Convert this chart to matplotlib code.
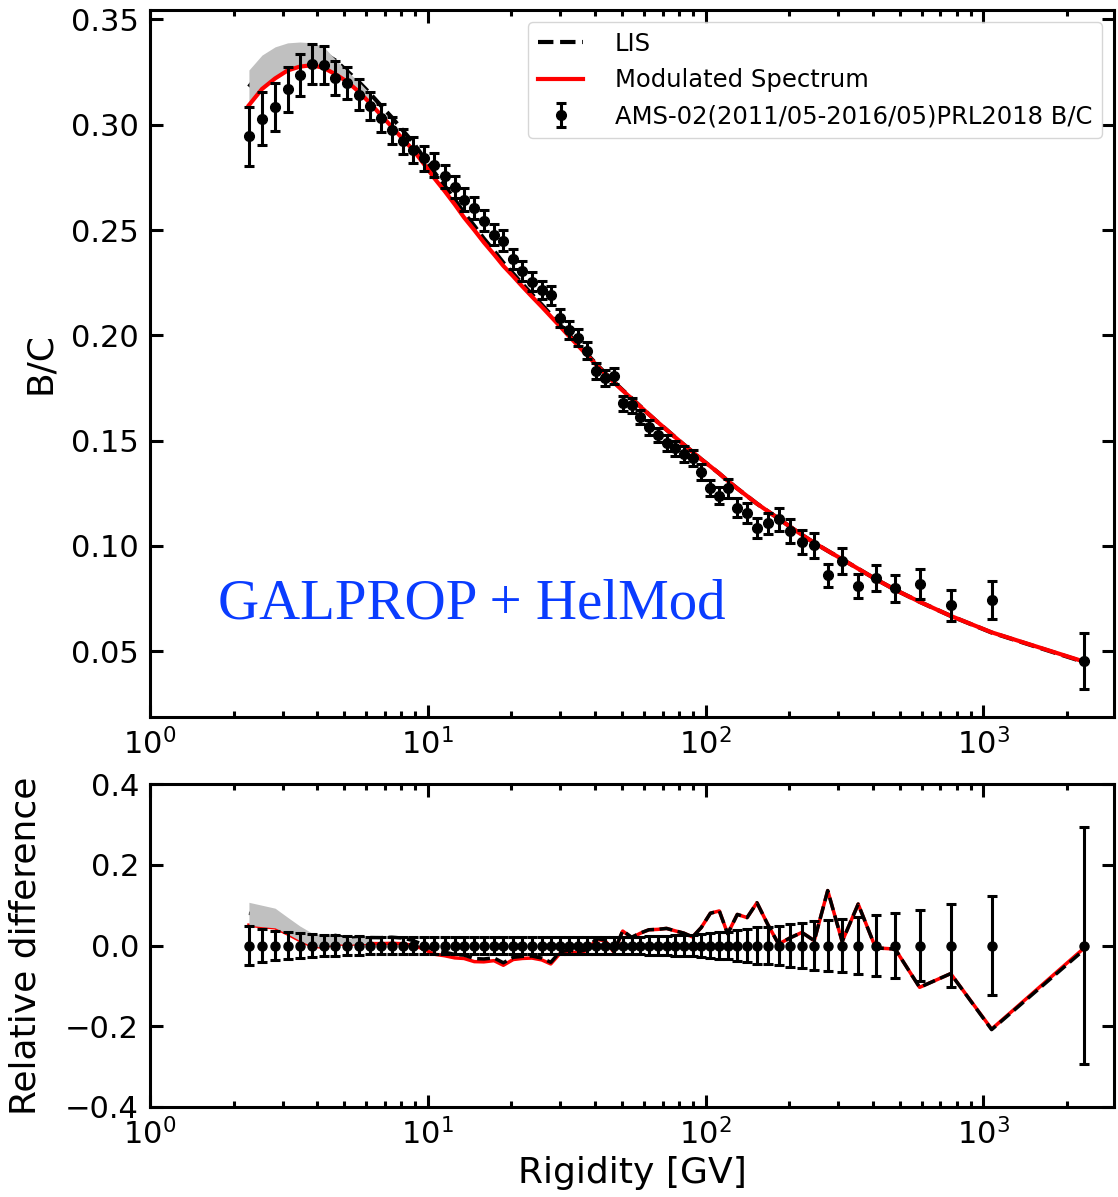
"""B/C ratio versus rigidity: GALPROP + HelMod model against AMS-02 data."""

import matplotlib

matplotlib.use("Agg")
import matplotlib.pyplot as plt
import numpy as np

# AMS-02 B/C (PRL 2018), bin centres in GV
rigidity = [
    2.27, 2.53, 2.82, 3.13, 3.46, 3.83, 4.22, 4.65, 5.12, 5.63, 6.18, 6.77,
    7.42, 8.11, 8.86, 9.67, 10.5, 11.5, 12.5, 13.5, 14.7, 15.9, 17.3, 18.7,
    20.3, 21.9, 23.7, 25.7, 27.7, 29.9, 32.3, 34.8, 37.5, 40.4, 43.5, 46.8,
    50.3, 54.1, 58.2, 62.5, 67.2, 72.3, 77.7, 83.5, 89.7, 96.4, 104, 112,
    120, 130, 141, 153, 167, 183, 201, 222, 246, 275, 310, 354, 409, 481,
    589, 762, 1070, 2300,
]
bc_ams = [
    0.2945, 0.3029, 0.3085, 0.3168, 0.3236, 0.3288, 0.3284, 0.3224, 0.3198,
    0.3143, 0.3089, 0.3033, 0.2974, 0.2921, 0.2880, 0.2840, 0.2810, 0.2755,
    0.2705, 0.2645, 0.2604, 0.2545, 0.2478, 0.2450, 0.2362, 0.2306, 0.2254,
    0.2215, 0.2190, 0.2084, 0.2025, 0.1988, 0.1928, 0.1832, 0.1797, 0.1807,
    0.1678, 0.1668, 0.1613, 0.1564, 0.1527, 0.1489, 0.1463, 0.1437, 0.1417,
    0.1352, 0.1276, 0.1238, 0.1273, 0.1182, 0.1157, 0.1086, 0.1107, 0.1126,
    0.1072, 0.1020, 0.1003, 0.0860, 0.0928, 0.0809, 0.0848, 0.0799, 0.0820,
    0.0718, 0.0744, 0.0454,
]
bc_ams_err = [
    0.0141, 0.0127, 0.0114, 0.0105, 0.0100, 0.0095, 0.0089, 0.0081, 0.0077,
    0.0072, 0.0068, 0.0067, 0.0065, 0.0061, 0.0060, 0.0060, 0.0056, 0.0055,
    0.0054, 0.0053, 0.0052, 0.0051, 0.0050, 0.0049, 0.0047, 0.0046, 0.0045,
    0.0044, 0.0044, 0.0042, 0.0041, 0.0040, 0.0039, 0.0037, 0.0038, 0.0038,
    0.0035, 0.0037, 0.0035, 0.0036, 0.0035, 0.0036, 0.0037, 0.0037, 0.0038,
    0.0038, 0.0038, 0.0040, 0.0043, 0.0044, 0.0046, 0.0049, 0.0051, 0.0054,
    0.0056, 0.0057, 0.0060, 0.0054, 0.0062, 0.0057, 0.0064, 0.0065, 0.0072,
    0.0073, 0.0092, 0.0133,
]

# model B/C evaluated at the same rigidities
bc_modulated = [
    0.3093, 0.3170, 0.3220, 0.3258, 0.3276, 0.3283, 0.3270, 0.3240, 0.3205,
    0.3158, 0.3104, 0.3047, 0.2990, 0.2934, 0.2880, 0.2815, 0.2750, 0.2685,
    0.2622, 0.2560, 0.2500, 0.2442, 0.2385, 0.2330, 0.2280, 0.2232, 0.2184,
    0.2136, 0.2090, 0.2043, 0.1995, 0.1950, 0.1905, 0.1860, 0.1818, 0.1776,
    0.1738, 0.1700, 0.1662, 0.1625, 0.1588, 0.1552, 0.1516, 0.1481, 0.1447,
    0.1412, 0.1378, 0.1344, 0.1310, 0.1273, 0.1237, 0.1201, 0.1166, 0.1130,
    0.1092, 0.1053, 0.1015, 0.0977, 0.0937, 0.0892, 0.0843, 0.0792, 0.0735,
    0.0668, 0.0590, 0.0451,
]
bc_lis = [
    0.3180, 0.3260, 0.3320, 0.3348, 0.3355, 0.3352, 0.3340, 0.3305, 0.3255,
    0.3205, 0.3150, 0.3092, 0.3035, 0.2975, 0.2915, 0.2845, 0.2778, 0.2710,
    0.2645, 0.2582, 0.2520, 0.2460, 0.2402, 0.2345, 0.2293, 0.2244, 0.2195,
    0.2146, 0.2099, 0.2051, 0.2002, 0.1956, 0.1910, 0.1864, 0.1821, 0.1779,
    0.1740, 0.1702, 0.1663, 0.1625, 0.1588, 0.1552, 0.1516, 0.1481, 0.1447,
    0.1412, 0.1378, 0.1344, 0.1310, 0.1273, 0.1237, 0.1201, 0.1166, 0.1130,
    0.1092, 0.1053, 0.1015, 0.0977, 0.0937, 0.0892, 0.0843, 0.0792, 0.0735,
    0.0668, 0.0589, 0.0449,
]
# upper edge of the modulation band at low rigidity
bc_band_upper = [
    0.3260, 0.3331, 0.3370, 0.3389, 0.3393, 0.3389, 0.3370, 0.3310, 0.3255,
    0.3205, 0.3150,
]

FIG_W, FIG_H = 1118, 1197
TICK_SIZE = 22
LABEL_SIZE = 26


def style_axis(ax):
    """Log x axis with inward ticks on all four sides."""
    ax.set_xscale("log")
    ax.tick_params(which="both", direction="in", top=True, right=True, width=2.2)
    ax.tick_params(which="major", length=9, labelsize=TICK_SIZE, pad=8)
    ax.tick_params(which="minor", length=4.5)
    for spine in ax.spines.values():
        spine.set_linewidth(2.2)
    ax.set_xlim(1, 2950)


def main():
    r = np.array(rigidity)
    data = np.array(bc_ams)
    err = np.array(bc_ams_err)
    model = np.array(bc_modulated)
    lis = np.array(bc_lis)
    band = np.array(bc_band_upper)
    nband = len(band)

    fig = plt.figure(figsize=(FIG_W / 100, FIG_H / 100), dpi=100)
    ax_top = fig.add_axes([150 / FIG_W, 1 - 717 / FIG_H, 964 / FIG_W, 707 / FIG_H])
    ax_bot = fig.add_axes([150 / FIG_W, 1 - 1107 / FIG_H, 964 / FIG_W, 323 / FIG_H])

    # upper panel: spectra
    ax_top.plot(r, lis, color="k", ls="--", lw=3, zorder=2, label="LIS")
    ax_top.fill_between(r[:nband], model[:nband], band, color="silver",
                        lw=0, zorder=2.5)
    ax_top.plot(r, model, color="red", lw=3, zorder=3,
                label="Modulated Spectrum")
    ax_top.errorbar(r, data, yerr=err, fmt="o", color="k", ms=7,
                    elinewidth=2.2, capsize=3.5, capthick=2.2, zorder=4,
                    label="AMS-02(2011/05-2016/05)PRL2018 B/C")
    style_axis(ax_top)
    ax_top.set_ylim(0.0188, 0.3545)
    ax_top.set_yticks([0.05, 0.10, 0.15, 0.20, 0.25, 0.30, 0.35])
    ax_top.set_ylabel("B/C", fontsize=LABEL_SIZE, labelpad=10)
    ax_top.legend(loc="upper right", fontsize=17.5, handlelength=1.85,
                  handletextpad=1.3)
    ax_top.text(0.0705, 0.14, "GALPROP + HelMod", transform=ax_top.transAxes,
                fontsize=41, color="#0a3cff", family="Liberation Serif",
                va="baseline")

    # lower panel: (model - data) / data
    rel_model = model / data - 1
    rel_lis = lis / data - 1
    rel_band = band / data[:nband] - 1
    ax_bot.plot(r, rel_model, color="red", lw=2.5, zorder=2)
    ax_bot.plot(r, rel_lis, color="k", ls="--", lw=2.5, zorder=3)
    ax_bot.fill_between(r[:nband], rel_model[:nband], rel_band, color="silver",
                        lw=0, zorder=3.5)
    ax_bot.errorbar(r, np.zeros_like(r), yerr=err / data, fmt="o", color="k",
                    ms=6.5, elinewidth=2.2, capsize=3.5, capthick=2.2, zorder=4)
    style_axis(ax_bot)
    ax_bot.set_ylim(-0.4, 0.4)
    ax_bot.set_yticks([-0.4, -0.2, 0.0, 0.2, 0.4])
    ax_bot.set_ylabel("Relative difference", fontsize=LABEL_SIZE, labelpad=16)
    ax_bot.set_xlabel("Rigidity [GV]", fontsize=LABEL_SIZE, labelpad=4)

    fig.savefig("out.png", dpi=100)
    plt.close(fig)


if __name__ == "__main__":
    main()
